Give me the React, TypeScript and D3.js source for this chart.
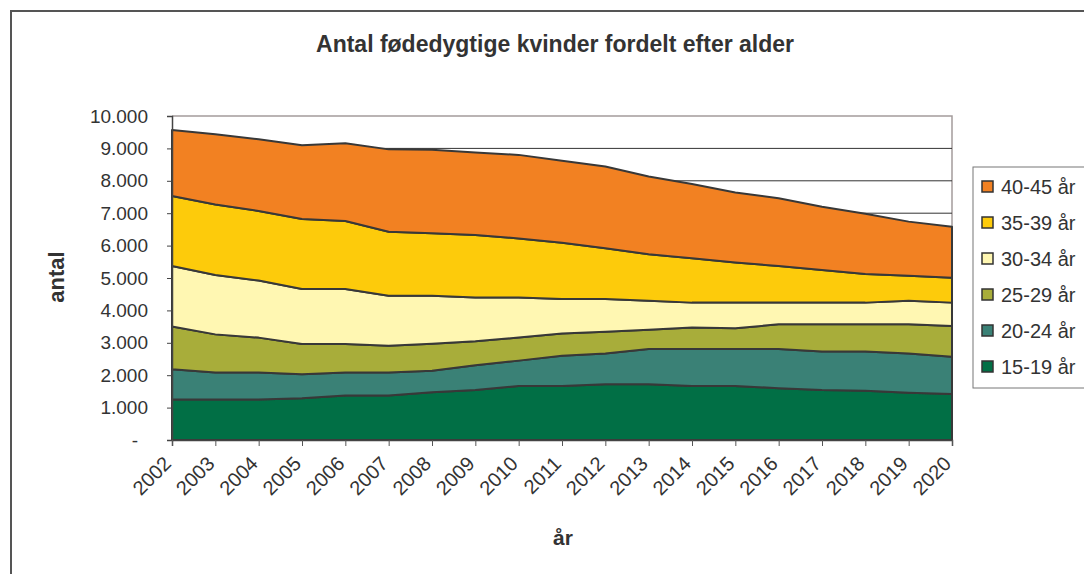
import { useEffect, useRef } from 'react';
import * as d3 from 'd3';

const years = [2002, 2003, 2004, 2005, 2006, 2007, 2008, 2009, 2010, 2011, 2012, 2013, 2014, 2015, 2016, 2017, 2018, 2019, 2020];

const age15to19 = [1250, 1250, 1250, 1290, 1370, 1370, 1470, 1540, 1670, 1670, 1720, 1720, 1670, 1670, 1600, 1540, 1520, 1460, 1420];
const age20to24 = [930, 830, 830, 740, 710, 710, 670, 770, 780, 930, 950, 1090, 1140, 1140, 1210, 1190, 1210, 1210, 1150];
const age25to29 = [1320, 1180, 1080, 930, 880, 830, 830, 740, 710, 690, 670, 590, 660, 640, 760, 840, 840, 900, 950];
const age30to34 = [1870, 1830, 1760, 1700, 1700, 1540, 1480, 1350, 1240, 1060, 1010, 900, 770, 790, 670, 670, 670, 730, 720];
const age35to39 = [2160, 2180, 2150, 2160, 2100, 1980, 1930, 1930, 1820, 1740, 1570, 1430, 1370, 1240, 1130, 1010, 880, 770, 770];
const age40to45 = [2040, 2170, 2210, 2280, 2400, 2540, 2580, 2540, 2580, 2530, 2520, 2400, 2290, 2160, 2090, 1950, 1860, 1670, 1570];

const seriesNames = ['15-19 år', '20-24 år', '25-29 år', '30-34 år', '35-39 år', '40-45 år'];
const seriesColors = ['#016f45', '#3a8176', '#a8ad3a', '#fff7b2', '#fdcb0b', '#f28122'];
const yTicks = [0, 1000, 2000, 3000, 4000, 5000, 6000, 7000, 8000, 9000, 10000];

const FONT = '"Liberation Sans", Arial, sans-serif';

export default function App() {
  const svgRef = useRef<SVGSVGElement>(null);

  useEffect(() => {
    if (!svgRef.current) return;
    const svg = d3.select(svgRef.current);
    svg.selectAll('*').remove();

    const all = [age15to19, age20to24, age25to29, age30to34, age35to39, age40to45];
    const table = years.map((yr, i) => {
      const row: Record<string, number> = { year: yr };
      seriesNames.forEach((n, k) => (row[n] = all[k][i]));
      return row;
    });

    const x = d3.scaleLinear().domain([2002, 2020]).range([172, 952]);
    const y = d3.scaleLinear().domain([0, 10000]).range([440, 116]);

    // outer frame
    svg.append('rect')
      .attr('x', 11).attr('y', 11).attr('width', 1090).attr('height', 580)
      .attr('fill', 'none').attr('stroke', '#555').attr('stroke-width', 2);

    // plot frame (top/right)
    svg.append('path')
      .attr('d', `M172,116H952V440`)
      .attr('fill', 'none').attr('stroke', '#a49c9c').attr('stroke-width', 1.5);

    // gridlines
    svg.append('g')
      .selectAll('line')
      .data(yTicks.filter((t) => t > 0 && t < 10000))
      .enter()
      .append('line')
      .attr('x1', 172).attr('x2', 952)
      .attr('y1', (d) => y(d)).attr('y2', (d) => y(d))
      .attr('stroke', '#333').attr('stroke-width', 1);

    const stack = d3.stack<Record<string, number>>().keys(seriesNames);
    const layers = stack(table);

    const area = d3.area<d3.SeriesPoint<Record<string, number>>>()
      .x((d) => x(d.data.year))
      .y0((d) => y(d[0]))
      .y1((d) => y(d[1]));

    svg.append('g')
      .selectAll('path')
      .data(layers)
      .enter()
      .append('path')
      .attr('d', (d) => area(d) || '')
      .attr('fill', (_d, i) => seriesColors[i])
      .attr('stroke', '#383838')
      .attr('stroke-width', 2)
      .attr('stroke-linejoin', 'round');

    // y axis
    const yAxis = svg.append('g').attr('transform', 'translate(172,0)')
      .call(
        d3.axisLeft(y)
          .tickValues(yTicks)
          .tickSize(5)
          .tickPadding(19)
          .tickFormat((d) => (+d === 0 ? '-' : d3.format(',')(+d).replace(/,/g, '.')))
      );
    yAxis.select('.domain').attr('stroke', '#444').attr('stroke-width', 1.5);
    yAxis.selectAll('.tick line').attr('stroke', '#444');
    yAxis.selectAll('.tick text')
      .attr('font-family', FONT).attr('font-size', 19).attr('fill', '#333');
    yAxis.select('.tick text').attr('dx', -10);

    // x axis
    const xAxis = svg.append('g').attr('transform', 'translate(0,440)')
      .call(d3.axisBottom(x).tickValues(years).tickSize(6).tickFormat(d3.format('d')));
    xAxis.select('.domain').attr('stroke', '#444').attr('stroke-width', 1.5);
    xAxis.selectAll('.tick line').attr('stroke', '#555');
    xAxis.selectAll('.tick text')
      .attr('font-family', FONT).attr('font-size', 20).attr('fill', '#333')
      .attr('text-anchor', 'end')
      .attr('transform', 'translate(-5,20) rotate(-45)')
      .attr('y', 0).attr('dy', '0.35em');

    // title
    svg.append('text')
      .attr('x', 555).attr('y', 52)
      .attr('text-anchor', 'middle')
      .attr('font-family', FONT).attr('font-weight', 'bold').attr('font-size', 23)
      .attr('fill', '#333')
      .text('Antal fødedygtige kvinder fordelt efter alder');

    svg.append('text')
      .attr('transform', 'translate(64,277) rotate(-90)')
      .attr('text-anchor', 'middle')
      .attr('font-family', FONT).attr('font-weight', 'bold').attr('font-size', 22)
      .attr('fill', '#333')
      .text('antal');

    svg.append('text')
      .attr('x', 563).attr('y', 545)
      .attr('text-anchor', 'middle')
      .attr('font-family', FONT).attr('font-weight', 'bold').attr('font-size', 21)
      .attr('fill', '#333')
      .text('år');

    // legend
    const legend = svg.append('g');
    legend.append('rect')
      .attr('x', 973).attr('y', 167).attr('width', 120).attr('height', 221)
      .attr('fill', '#fff').attr('stroke', '#777').attr('stroke-width', 1);

    const legendOrder = seriesNames.map((n, i) => ({ n, c: seriesColors[i] })).reverse();
    const items = legend.selectAll('g.item')
      .data(legendOrder)
      .enter()
      .append('g')
      .attr('class', 'item')
      .attr('transform', (_d, i) => `translate(0,${187 + i * 36})`);
    items.append('rect')
      .attr('x', 982).attr('y', -6).attr('width', 11).attr('height', 11)
      .attr('fill', (d) => d.c).attr('stroke', '#333').attr('stroke-width', 1.5);
    items.append('text')
      .attr('x', 1001).attr('y', 0).attr('dy', '0.35em')
      .attr('font-family', FONT).attr('font-size', 20).attr('fill', '#333')
      .text((d) => d.n);
  }, []);

  return (
    <svg
      ref={svgRef}
      width={1084}
      height={574}
      style={{ position: 'absolute', left: 0, top: 0, background: '#fff' }}
    />
  );
}
